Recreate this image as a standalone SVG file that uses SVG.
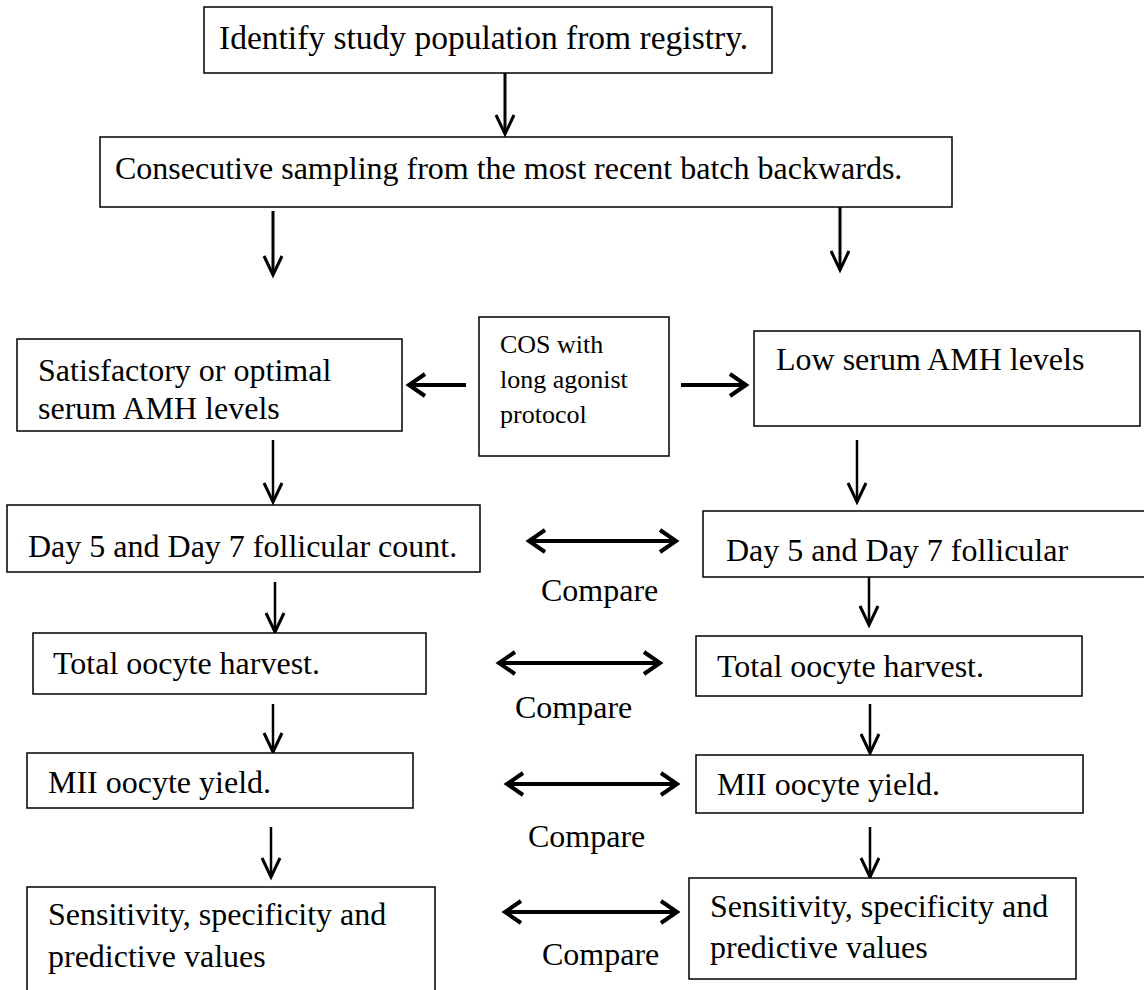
<svg xmlns="http://www.w3.org/2000/svg" width="1144" height="990" viewBox="0 0 1144 990">
<style>
.box{fill:#fff;stroke:#000;stroke-width:1.5}
.t{font-family:"Liberation Serif","Times New Roman",serif;font-size:32px;fill:#000}
.ln{fill:none;stroke:#000;stroke-width:2.5}
.lnh{fill:none;stroke:#000;stroke-width:4}
</style>
<defs>
<marker id="ah" markerUnits="userSpaceOnUse" viewBox="-20 -14 24 28" refX="0" refY="0" markerWidth="24" markerHeight="28" orient="auto-start-reverse">
<path d="M-19,-9 L0,0 L-19,9" fill="none" stroke="#000" stroke-width="3"/>
</marker>
<marker id="ahh" markerUnits="userSpaceOnUse" viewBox="-20 -14 24 28" refX="0" refY="0" markerWidth="24" markerHeight="28" orient="auto-start-reverse">
<path d="M-16,-11 L0,0 L-16,11" fill="none" stroke="#000" stroke-width="4"/>
</marker>
</defs>
<rect width="1144" height="990" fill="#fff"/>
<g id="connectors">
<line class="ln" x1="505" y1="73" x2="505" y2="134" marker-end="url(#ah)" style="stroke-width:3"/>
<line class="ln" x1="273" y1="211" x2="273" y2="275" marker-end="url(#ah)" style="stroke-width:3"/>
<line class="ln" x1="840" y1="207" x2="840" y2="270" marker-end="url(#ah)" style="stroke-width:3"/>
<line class="lnh" x1="466" y1="385" x2="409" y2="385" marker-end="url(#ahh)"/>
<line class="lnh" x1="681" y1="385" x2="746" y2="385" marker-end="url(#ahh)"/>
<line class="ln" x1="273" y1="440" x2="273" y2="502" marker-end="url(#ah)"/>
<line class="ln" x1="857" y1="440" x2="857" y2="502" marker-end="url(#ah)"/>
<line class="lnh" x1="529" y1="541" x2="676" y2="541" marker-start="url(#ahh)" marker-end="url(#ahh)"/>
<line class="ln" x1="275" y1="582" x2="275" y2="632" marker-end="url(#ah)"/>
<line class="ln" x1="869" y1="577" x2="869" y2="625" marker-end="url(#ah)"/>
<line class="lnh" x1="499" y1="663" x2="660" y2="663" marker-start="url(#ahh)" marker-end="url(#ahh)"/>
<line class="ln" x1="273" y1="704" x2="273" y2="752" marker-end="url(#ah)"/>
<line class="ln" x1="870" y1="704" x2="870" y2="753" marker-end="url(#ah)"/>
<line class="lnh" x1="507" y1="784" x2="677" y2="784" marker-start="url(#ahh)" marker-end="url(#ahh)"/>
<line class="ln" x1="271" y1="827" x2="271" y2="877" marker-end="url(#ah)"/>
<line class="ln" x1="870" y1="827" x2="870" y2="877" marker-end="url(#ah)"/>
<line class="lnh" x1="505" y1="912" x2="677" y2="912" marker-start="url(#ahh)" marker-end="url(#ahh)"/>
</g>
<g id="identify"><rect class="box" x="204" y="7" width="568" height="66"/><text class="t" x="219" y="49" style="font-size:33.5px">Identify study population from registry.</text></g>
<g id="sampling"><rect class="box" x="100" y="137" width="852" height="70"/><text class="t" x="115" y="179" style="font-size:32px">Consecutive sampling from the most recent batch backwards.</text></g>
<g id="satisfactory"><rect class="box" x="17" y="339" width="385" height="92"/><text class="t" x="38" y="381">Satisfactory or optimal</text><text class="t" x="38" y="419">serum AMH levels</text></g>
<g id="cos"><rect class="box" x="479" y="317" width="190" height="139"/><text class="t" x="500" y="353" style="font-size:26px">COS with</text><text class="t" x="500" y="388" style="font-size:26px">long agonist</text><text class="t" x="500" y="423" style="font-size:26px">protocol</text></g>
<g id="low"><rect class="box" x="754" y="331" width="386" height="95"/><text class="t" x="776" y="370">Low serum AMH levels</text></g>
<g id="day-left"><rect class="box" x="7" y="505" width="473" height="67"/><text class="t" x="28" y="557">Day 5 and Day 7 follicular count.</text></g>
<g id="day-right"><rect class="box" x="703" y="511" width="445" height="66"/><text class="t" x="726" y="561">Day 5 and Day 7 follicular</text></g>
<g id="compare1"><text class="t" x="541" y="601">Compare</text></g>
<g id="total-left"><rect class="box" x="33" y="633" width="393" height="61"/><text class="t" x="53" y="674">Total oocyte harvest.</text></g>
<g id="total-right"><rect class="box" x="696" y="636" width="386" height="60"/><text class="t" x="717" y="677">Total oocyte harvest.</text></g>
<g id="compare2"><text class="t" x="515" y="718">Compare</text></g>
<g id="mii-left"><rect class="box" x="27" y="753" width="386" height="55"/><text class="t" x="48" y="793">MII oocyte yield.</text></g>
<g id="mii-right"><rect class="box" x="696" y="755" width="387" height="58"/><text class="t" x="717" y="795">MII oocyte yield.</text></g>
<g id="compare3"><text class="t" x="528" y="847">Compare</text></g>
<g id="sens-left"><rect class="box" x="27" y="887" width="408" height="110"/><text class="t" x="48" y="925">Sensitivity, specificity and</text><text class="t" x="48" y="967">predictive values</text></g>
<g id="sens-right"><rect class="box" x="689" y="878" width="387" height="101"/><text class="t" x="710" y="917">Sensitivity, specificity and</text><text class="t" x="710" y="958">predictive values</text></g>
<g id="compare4"><text class="t" x="542" y="965">Compare</text></g>
</svg>
